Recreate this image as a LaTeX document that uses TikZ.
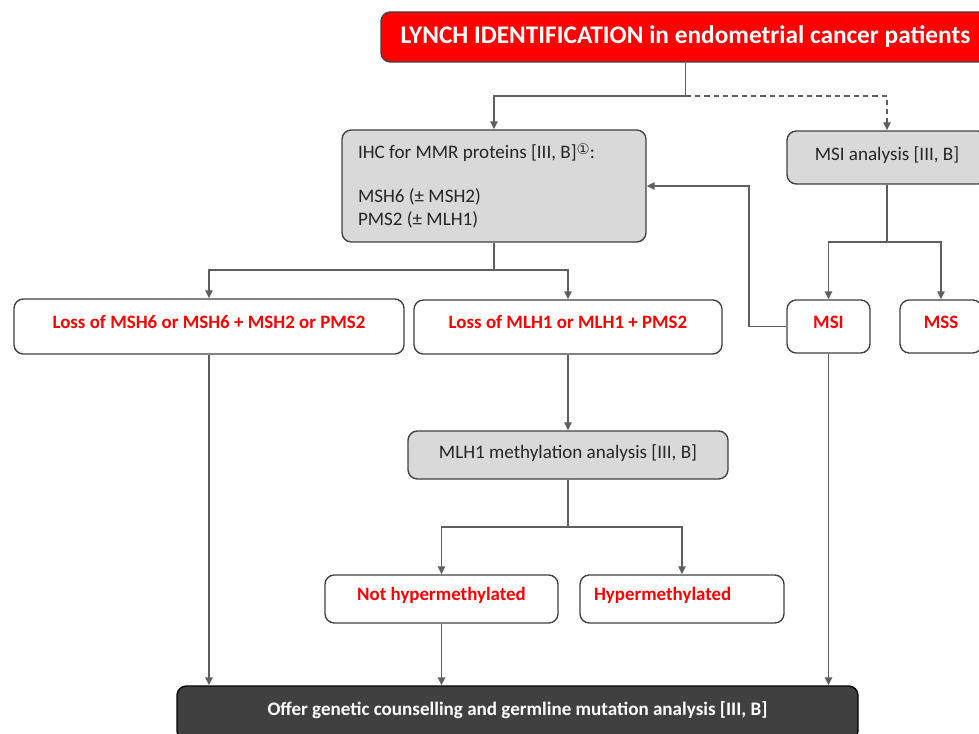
\documentclass[tikz,border=0pt]{standalone}
\usepackage{fontspec}
\setmainfont{Carlito}
\newfontfamily\circfont{DejaVu Sans}
\usepackage{tikz}
\usetikzlibrary{arrows.meta}
\definecolor{lineGrey}{HTML}{5F5F5F}
\definecolor{boxGrey}{HTML}{D9D9D9}
\definecolor{darkBox}{HTML}{404040}
\definecolor{lynchRed}{HTML}{FF0000}

\begin{document}
\begin{tikzpicture}[x=0.75pt, y=-0.75pt,
        titlebox/.style={draw=darkBox, line width=1pt, fill=lynchRed, rounded corners=7pt, text=white, font=\bfseries\fontsize{19}{23}\selectfont},
        testbox/.style={draw=darkBox, line width=1pt, fill=boxGrey, rounded corners=7pt, text=black!85, font=\fontsize{14.3}{17.25}\selectfont},
        resultbox/.style={draw=darkBox, line width=1pt, fill=white, rounded corners=7pt, text=lynchRed, font=\bfseries\fontsize{14.2}{17}\selectfont, text depth=7pt},
        offerbox/.style={draw=black, line width=1pt, fill=darkBox, rounded corners=7pt, text=white, font=\bfseries\fontsize{14.3}{17}\selectfont, text depth=7pt},
        link/.style={draw=lineGrey, line width=1.1pt},
        arr/.style={link, -{Triangle[length=6pt, width=5.5pt]}}]
    \useasboundingbox (0,0) rectangle (979,734);
    \clip (0,0) rectangle (979,734);

        \node [titlebox, minimum width=456.75pt, minimum height=37.5pt, text depth=3pt] (lynch) at (685.5,37) {LYNCH IDENTIFICATION in endometrial cancer patients};
        \node [testbox, minimum width=228pt, minimum height=84pt, inner xsep=12pt, text width=204pt, align=flush left] (ihc) at (494,186) {IHC for MMR proteins [III, B]\raisebox{0.25em}{\circfont\fontsize{11}{11}\selectfont ①}:\\[15.75pt] MSH6 (± MSH2)\\ PMS2 (± MLH1)};
        \node [testbox, minimum width=150pt, minimum height=39.75pt, text depth=6pt] (msia) at (887,157.5) {MSI analysis [III, B]};
        \node [resultbox, minimum width=62.25pt, minimum height=39.75pt] (msi) at (828.5,326.5) {MSI};
        \node [resultbox, minimum width=61.5pt, minimum height=39.75pt] (mss) at (941,326.5) {MSS};
        \node [resultbox, minimum width=292.5pt, minimum height=41.25pt] (lossmsh) at (209,326.5) {Loss of MSH6 or MSH6 + MSH2 or PMS2};
        \node [resultbox, minimum width=231pt, minimum height=40.5pt] (lossmlh) at (568,327) {Loss of MLH1 or MLH1 + PMS2};
        \node [testbox, minimum width=240pt, minimum height=36pt, text depth=5pt] (meth) at (568,455) {MLH1 methylation analysis [III, B]};
        \node [resultbox, minimum width=174.75pt, minimum height=36pt] (nothyper) at (441.5,599) {Not hypermethylated};
        \node [resultbox, minimum width=153pt, minimum height=36pt, text width=132pt, align=flush left] (hyper) at (682,599) {Hypermethylated};
        \node [offerbox, minimum width=510.75pt, minimum height=40.5pt] (offer) at (517.5,713) {Offer genetic counselling and germline mutation analysis [III, B]};

        \coordinate (split) at (685.5,96);
        \coordinate (msisplit) at (887,242);
        \coordinate (back) at (749,186);
        \coordinate (ihcsplit) at (494,270);
        \coordinate (methsplit) at (568,527);

        \draw [link] (lynch.south) -- (split);
        \draw [arr] (split) -| (ihc.north);
        \draw [arr, dash pattern=on 4pt off 3pt] (split) -| (msia.north);
        \draw [link] (msia.south) -- (msisplit);
        \draw [arr] (msisplit) -| (msi.north);
        \draw [arr] (msisplit) -| (mss.north);
        \draw [arr] (msi.west) -| (back) -- (ihc.east);
        \draw [link] (ihc.south) -- (ihcsplit);
        \draw [arr] (ihcsplit) -| (lossmsh.north);
        \draw [arr] (ihcsplit) -| (lossmlh.north);
        \draw [arr] (lossmlh.south) -- (meth.north);
        \draw [link] (meth.south) -- (methsplit);
        \draw [arr] (methsplit) -| (nothyper.north);
        \draw [arr] (methsplit) -| (hyper.north);
        \draw [arr] (lossmsh.south) -- (lossmsh.south |- offer.north);
        \draw [arr] (nothyper.south) -- (nothyper.south |- offer.north);
        \draw [arr] (msi.south) -- (msi.south |- offer.north);
    \end{tikzpicture}
\end{document}
